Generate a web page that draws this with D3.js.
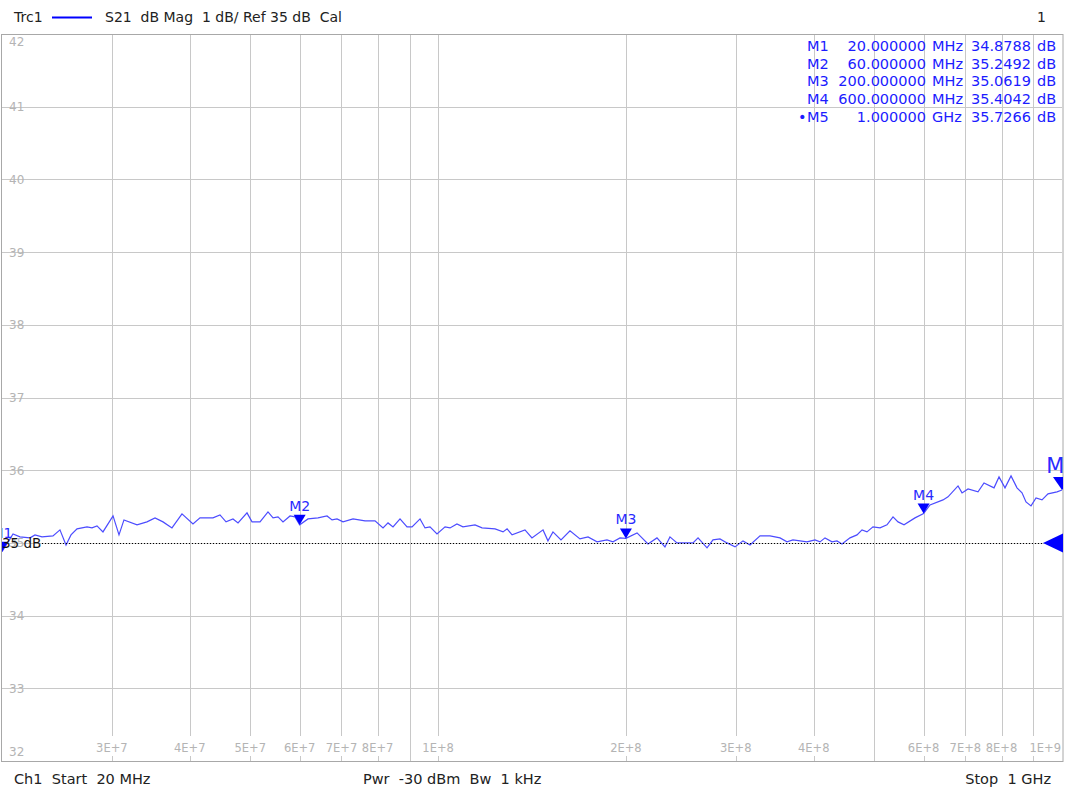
<!DOCTYPE html>
<html>
<head>
<meta charset="utf-8">
<script src="https://cdn.jsdelivr.net/npm/d3@7"></script>
<style>
  body { margin: 0; background: #fff; }
  svg { display: block; font-family: "DejaVu Sans", Verdana, sans-serif; }
  text { white-space: pre; }
</style>
</head>
<body>
<div class="chart"></div>
<script>
// trace S21, frequency in MHz and magnitude in dB
const traceFreq = [20.0, 20.83, 21.37, 22.18, 22.59, 23.18, 24.14, 24.77, 25.33, 25.80, 26.38, 27.37, 27.88, 28.40,
  29.03, 30.13, 30.80, 31.37, 32.92, 34.15, 35.18, 36.23, 37.45, 38.86, 40.47, 41.53, 43.57, 44.71, 45.72, 46.91,
  47.79, 49.40, 50.32, 51.83, 53.38, 54.38, 55.39, 56.42, 57.90, 58.98, 60.0, 61.87, 64.20, 66.37, 67.61, 68.87,
  70.41, 73.06, 76.37, 79.23, 81.61, 83.13, 84.67, 86.89, 89.17, 90.83, 93.55, 95.29, 97.06, 99.60, 102.6, 104.5,
  107.2, 109.6, 114.6, 117.6, 123.4, 127.1, 129.0, 131.4, 137.8, 141.4, 147.3, 150.0, 152.8, 157.4, 162.7, 168.8,
  173.9, 179.8, 186.5, 190.7, 195.7, 200.0, 208.4, 217.0, 224.3, 231.0, 235.3, 241.5, 256.2, 261.0, 269.8, 275.8,
  283.0, 290.5, 299.2, 308.1, 316.2, 328.1, 340.4, 353.2, 362.4, 370.5, 380.2, 390.2, 401.9, 409.4, 417.0, 427.9,
  435.9, 444.0, 457.3, 469.3, 478.0, 486.9, 497.8, 510.9, 524.2, 536.0, 546.0, 558.2, 581.3, 600.0, 614.4, 644.6,
  656.6, 681.3, 691.5, 707.0, 733.5, 749.9, 778.1, 792.6, 810.3, 828.5, 847.0, 862.8, 875.6, 891.9, 908.6, 928.9,
  949.7, 981.8, 1000.0];
const traceDb = [34.879, 35.124, 35.083, 35.069, 35.110, 35.083, 35.096, 35.179, 34.972, 35.110, 35.193, 35.220, 35.206, 35.234,
  35.151, 35.371, 35.110, 35.316, 35.248, 35.289, 35.344, 35.289, 35.206, 35.399, 35.261, 35.344, 35.344, 35.385, 35.289, 35.330,
  35.275, 35.413, 35.289, 35.289, 35.426, 35.344, 35.358, 35.289, 35.371, 35.358, 35.249, 35.330, 35.344, 35.371, 35.316, 35.330,
  35.289, 35.330, 35.303, 35.303, 35.206, 35.275, 35.220, 35.330, 35.220, 35.220, 35.330, 35.206, 35.220, 35.124, 35.220, 35.206,
  35.261, 35.220, 35.248, 35.206, 35.193, 35.151, 35.193, 35.110, 35.179, 35.069, 35.179, 35.028, 35.151, 35.041, 35.165, 35.055,
  35.083, 35.014, 35.041, 35.014, 35.069, 35.062, 35.138, 34.986, 35.069, 34.945, 35.083, 35.000, 35.000, 35.069, 34.931, 35.041,
  35.055, 35.000, 34.945, 35.028, 34.972, 35.096, 35.096, 35.069, 35.014, 35.041, 35.028, 35.014, 35.041, 35.014, 35.069, 35.014,
  35.028, 34.986, 35.069, 35.110, 35.179, 35.151, 35.220, 35.206, 35.248, 35.358, 35.289, 35.248, 35.344, 35.404, 35.523, 35.591,
  35.633, 35.784, 35.688, 35.743, 35.702, 35.825, 35.757, 35.908, 35.757, 35.922, 35.757, 35.688, 35.564, 35.509, 35.619, 35.591,
  35.674, 35.702, 35.727];

// markers
const markerNames = ['M1', 'M2', 'M3', 'M4', 'M5'];
const markerFreq = [20, 60, 200, 600, 1000];           // MHz
const markerDb = [34.8788, 35.2492, 35.0619, 35.4042, 35.7266];
const markerFreqText = ['20.000000', '60.000000', '200.000000', '600.000000', '1.000000'];
const markerUnit = ['MHz', 'MHz', 'MHz', 'MHz', 'GHz'];
const markerDbText = ['34.8788', '35.2492', '35.0619', '35.4042', '35.7266'];
const activeMarker = 'M5';

// axes
const yTicks = [42, 41, 40, 39, 38, 37, 36, 35, 34, 33, 32];
const xGrid = [30, 40, 50, 60, 70, 80, 90, 100, 200, 300, 400, 500, 600, 700, 800, 900];
const xTickValues = [30, 40, 50, 60, 70, 80, 100, 200, 300, 400, 600, 700, 800, 1000];
const xTickLabels = ['3E+7', '4E+7', '5E+7', '6E+7', '7E+7', '8E+7', '1E+8', '2E+8', '3E+8', '4E+8',
  '6E+8', '7E+8', '8E+8', '1E+9'];
const refLevel = 35;

const width = 1065;
const height = 789;
const plotLeft = 2, plotRight = 1062, plotTop = 34, plotBottom = 761;
const traceColor = '#4c4cff';
const gridColor = '#c8c8c8';

const x = d3.scaleLog().domain([20, 1000]).range([plotLeft, plotRight]);
const y = d3.scaleLinear().domain([32, 42]).range([plotBottom, plotTop]);

const svg = d3.select('.chart')
  .append('svg')
  .attr('width', width)
  .attr('height', height);

svg.append('defs').append('clipPath').attr('id', 'plot')
  .append('rect')
  .attr('x', plotLeft).attr('y', plotTop)
  .attr('width', plotRight - plotLeft + 1).attr('height', plotBottom - plotTop);

// header
svg.append('text').attr('x', 14).attr('y', 22).attr('font-size', 14).attr('fill', '#222').text('Trc1');
svg.append('line').attr('x1', 52).attr('x2', 92).attr('y1', 17.5).attr('y2', 17.5)
  .attr('stroke', '#0000ff').attr('stroke-width', 2);
svg.append('text').attr('x', 105).attr('y', 22).attr('font-size', 14).attr('fill', '#222')
  .text('S21\u00a0\u00a0dB Mag\u00a0\u00a01 dB/ Ref 35 dB\u00a0\u00a0Cal');
svg.append('text').attr('x', 1046).attr('y', 22).attr('font-size', 14).attr('fill', '#222')
  .attr('text-anchor', 'end').text('1');

// footer
const footer = svg.append('g').attr('font-size', 14.5).attr('fill', '#222');
footer.append('text').attr('x', 14).attr('y', 784).text('Ch1\u00a0\u00a0Start\u00a0\u00a020 MHz');
footer.append('text').attr('x', 363).attr('y', 784).text('Pwr\u00a0\u00a0-30 dBm\u00a0\u00a0Bw\u00a0\u00a01 kHz');
footer.append('text').attr('x', 1051).attr('y', 784).attr('text-anchor', 'end').text('Stop\u00a0\u00a01 GHz');

// grid
const grid = svg.append('g').attr('shape-rendering', 'crispEdges');
grid.selectAll('.hgrid')
  .data(yTicks)
  .enter().append('line')
  .attr('x1', plotLeft).attr('x2', plotRight)
  .attr('y1', d => Math.round(y(d)) + 0.5).attr('y2', d => Math.round(y(d)) + 0.5)
  .attr('stroke', gridColor);
grid.selectAll('.vgrid')
  .data(xGrid)
  .enter().append('line')
  .attr('x1', d => Math.round(x(d)) + 0.5).attr('x2', d => Math.round(x(d)) + 0.5)
  .attr('y1', plotTop).attr('y2', plotBottom)
  .attr('stroke', gridColor);

// border
svg.append('rect')
  .attr('x', plotLeft - 0.5).attr('y', plotTop + 0.5)
  .attr('width', plotRight - plotLeft + 1.5).attr('height', plotBottom - plotTop)
  .attr('fill', 'none').attr('stroke', '#a8a8a8');

// y labels
svg.append('g').selectAll('text')
  .data(yTicks)
  .enter().append('text')
  .attr('x', 9)
  .attr('y', d => {
    const p = y(d);
    if (p - plotTop < 10) return plotTop + 12;
    if (plotBottom - p < 10) return plotBottom - 5;
    return p + 4.5;
  })
  .attr('font-size', 12)
  .attr('fill', '#b4b4b4')
  .text(d => d);

// x labels with white gap in the grid line
const xl = svg.append('g').attr('font-size', 11.5).attr('fill', '#b4b4b4');
xTickValues.forEach((v, i) => {
  const last = i === xTickValues.length - 1;
  const cx = last ? plotRight - 1 : x(v);
  const t = xl.append('text')
    .attr('x', cx).attr('y', 752)
    .attr('text-anchor', last ? 'end' : 'middle')
    .text(xTickLabels[i]);
  const bb = t.node().getBBox();
  xl.insert('rect', 'text')
    .attr('x', bb.x - 1).attr('y', 736)
    .attr('width', bb.width + 2).attr('height', 20)
    .attr('fill', '#fff');
});

const plot = svg.append('g').attr('clip-path', 'url(#plot)');

// reference line
svg.append('line')
  .attr('x1', 42).attr('x2', plotRight - 18)
  .attr('y1', Math.round(y(refLevel)) + 0.5).attr('y2', Math.round(y(refLevel)) + 0.5)
  .attr('stroke', '#000').attr('stroke-dasharray', '1,2');
svg.append('text').attr('x', 2).attr('y', y(refLevel) + 5.5)
  .attr('font-size', 13.5).attr('fill', '#111').text('35 dB');
plot.append('path')
  .attr('d', `M${plotRight - 19},${y(refLevel)}L${plotRight + 2},${y(refLevel) - 10}L${plotRight + 2},${y(refLevel) + 10}Z`)
  .attr('fill', '#0000ff');

// trace
const data = traceFreq.map((f, i) => [f, traceDb[i]]);
const lineGenerator = d3.line()
  .x(d => x(d[0]))
  .y(d => y(d[1]));
plot.append('path')
  .attr('d', lineGenerator(data))
  .attr('fill', 'none')
  .attr('stroke', traceColor)
  .attr('stroke-width', 1.2);

// markers on the trace
markerNames.forEach((name, i) => {
  const big = name === activeMarker;
  const px = x(markerFreq[i]);
  const py = y(markerDb[i]);
  const w = big ? 9 : 6;
  const h = big ? 13 : 10;
  plot.append('path')
    .attr('d', `M${px},${py}L${px - w},${py - h}L${px + w},${py - h}Z`)
    .attr('fill', '#0000ff');
  plot.append('text')
    .attr('x', px).attr('y', py - h - 4)
    .attr('text-anchor', 'middle')
    .attr('font-size', big ? 21 : 14)
    .attr('fill', '#2a2aff')
    .text(name);
});

// marker table
const table = svg.append('g').attr('font-size', 14.5).attr('fill', '#1c1cff');
markerNames.forEach((name, i) => {
  const by = 51 + i * 17.7;
  if (name === activeMarker) {
    table.append('text').attr('x', 798).attr('y', by).text('\u2022');
  }
  table.append('text').attr('x', 807).attr('y', by).text(name);
  table.append('text').attr('x', 926).attr('y', by).attr('text-anchor', 'end').text(markerFreqText[i]);
  table.append('text').attr('x', 932).attr('y', by).text(markerUnit[i]);
  table.append('text').attr('x', 1031).attr('y', by).attr('text-anchor', 'end').text(markerDbText[i]);
  table.append('text').attr('x', 1037).attr('y', by).text('dB');
});
</script>
</body>
</html>
